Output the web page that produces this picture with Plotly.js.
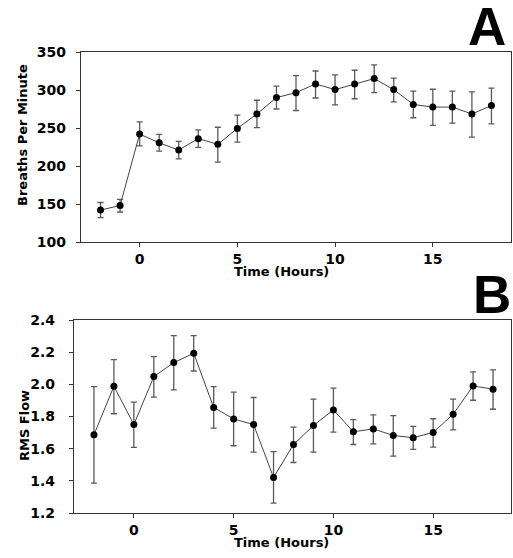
<!DOCTYPE html>
<html>
<head>
<meta charset="utf-8">
<script src="https://cdn.plot.ly/plotly-3.0.1.min.js"></script>
<style>
html,body{margin:0;padding:0;background:#fff;}
#chart{width:513px;height:558px;}
</style>
</head>
<body>
<div id="chart"></div>
<script>
// Panel A: breathing rate
const hoursA = [-2,-1,0,1,2,3,4,5,6,7,8,9,10,11,12,13,14,15,16,17,18];
const breathsPerMinute = [142,148,242,230.5,221,236,228.5,249.5,268.5,290,296.5,308,300.5,308,315,300.5,281,277.5,277.5,268.5,279.5];
const breathsErrPlus  = [10,8,16,11,11.5,11.5,22.5,17.5,18,15,22.5,17,19.5,18,18,15,17.5,23.5,21,29,23];
const breathsErrMinus = [10,8.5,15.5,11,11.5,11.5,23.5,18,18,15,23.5,18.5,20,19.5,18.5,16,17.5,24,21,30.5,24];

// Panel B: RMS flow
const hoursB = [-2,-1,0,1,2,3,4,5,6,7,8,9,10,11,12,13,14,15,16,17,18];
const rmsFlow = [1.686,1.988,1.750,2.048,2.135,2.193,1.856,1.785,1.750,1.421,1.626,1.744,1.841,1.705,1.723,1.682,1.668,1.701,1.814,1.990,1.970];
const rmsErrPlus  = [0.300,0.166,0.139,0.124,0.168,0.110,0.130,0.166,0.168,0.160,0.108,0.164,0.135,0.076,0.087,0.124,0.070,0.085,0.094,0.087,0.120];
const rmsErrMinus = [0.300,0.171,0.142,0.128,0.170,0.110,0.128,0.167,0.171,0.159,0.112,0.165,0.138,0.079,0.093,0.128,0.073,0.091,0.097,0.089,0.125];

const tickValsX = [0,5,10,15];
const tickValsA = [100,150,200,250,300,350];
const tickValsB = [1.2,1.4,1.6,1.8,2.0,2.2,2.4];
const tickTextB = ['1.2','1.4','1.6','1.8','2.0','2.2','2.4'];

const W = 513, H = 558;
const px = v => v / W;
const py = v => 1 - v / H;

const FONT = 'DejaVu Sans, Liberation Sans, Arial, sans-serif';
const tickFont = {family: FONT, size: 14, color: '#000', weight: 700};
const titleFont = {family: FONT, size: 13, color: '#000', weight: 700};
const letterFont = {family: 'Liberation Sans, Arial, sans-serif', size: 53, color: '#000', weight: 700};

function series(x, y, plus, minus, xa, ya) {
  return {
    type: 'scatter', mode: 'lines+markers',
    x: x, y: y, xaxis: xa, yaxis: ya,
    line: {color: '#444', width: 1},
    marker: {color: '#000', size: 7},
    error_y: {type: 'data', symmetric: false, array: plus, arrayminus: minus,
              color: '#5a5a5a', thickness: 1.3, width: 3},
    showlegend: false, hoverinfo: 'x+y'
  };
}

const data = [
  series(hoursA, breathsPerMinute, breathsErrPlus, breathsErrMinus, 'x', 'y'),
  series(hoursB, rmsFlow, rmsErrPlus, rmsErrMinus, 'x2', 'y2')
];

const axisCommon = {
  showline: true, linecolor: '#333', linewidth: 1.2, mirror: true,
  ticks: 'outside', ticklen: 4, tickwidth: 1, tickcolor: '#333',
  showgrid: false, zeroline: false, tickfont: tickFont, automargin: false
};

const layout = {
  width: W, height: H,
  margin: {l: 0, r: 0, t: 0, b: 0},
  paper_bgcolor: '#fff', plot_bgcolor: '#fff',
  xaxis: Object.assign({}, axisCommon, {
    domain: [px(81), px(511)], range: [-3, 19], anchor: 'y',
    tickvals: tickValsX, ticklabelstandoff: 0
  }),
  yaxis: Object.assign({}, axisCommon, {
    domain: [py(242), py(52)], range: [100, 350], anchor: 'x',
    tickvals: tickValsA, ticklabelstandoff: 7
  }),
  xaxis2: Object.assign({}, axisCommon, {
    domain: [px(74), px(511)], range: [-3, 18.9], anchor: 'y2',
    tickvals: tickValsX, ticklabelstandoff: 0
  }),
  yaxis2: Object.assign({}, axisCommon, {
    domain: [py(513), py(320)], range: [1.2, 2.4], anchor: 'x2',
    tickvals: tickValsB, ticktext: tickTextB, ticklabelstandoff: 11
  }),
  annotations: [
    {text: 'Breaths Per Minute', xref: 'paper', yref: 'paper', x: px(22), y: py(135),
     xanchor: 'center', yanchor: 'middle', textangle: -90, showarrow: false, font: titleFont},
    {text: 'Time (Hours)', xref: 'paper', yref: 'paper', x: px(281), y: py(272),
     xanchor: 'center', yanchor: 'middle', showarrow: false, font: titleFont},
    {text: 'RMS Flow', xref: 'paper', yref: 'paper', x: px(24), y: py(426),
     xanchor: 'center', yanchor: 'middle', textangle: -90, showarrow: false, font: titleFont},
    {text: 'Time (Hours)', xref: 'paper', yref: 'paper', x: px(281), y: py(542),
     xanchor: 'center', yanchor: 'middle', showarrow: false, font: titleFont},
    {text: 'A', xref: 'paper', yref: 'paper', x: px(508), y: py(27),
     xanchor: 'right', yanchor: 'middle', showarrow: false, font: letterFont},
    {text: 'B', xref: 'paper', yref: 'paper', x: px(513), y: py(294.5),
     xanchor: 'right', yanchor: 'middle', showarrow: false, font: letterFont}
  ]
};

Plotly.newPlot('chart', data, layout, {displayModeBar: false, staticPlot: true});
</script>
</body>
</html>
